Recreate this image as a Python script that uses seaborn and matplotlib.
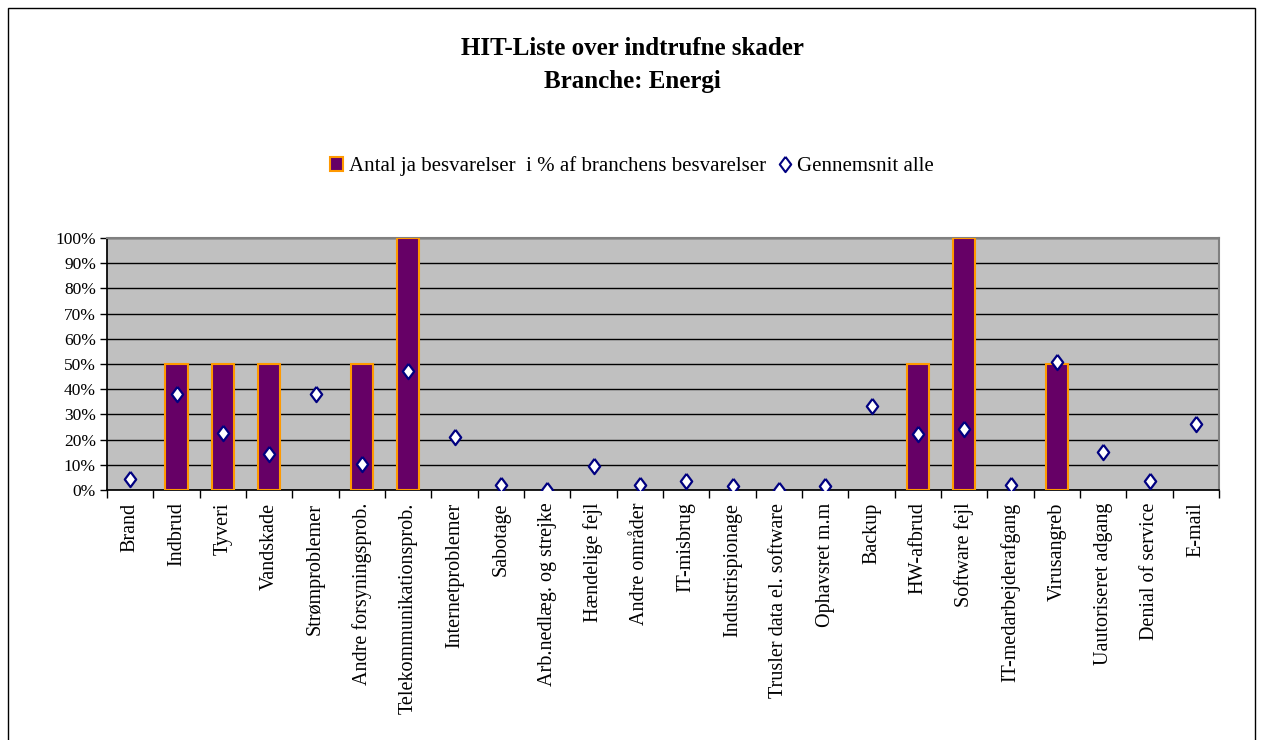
import numpy as np
import pandas as pd
import matplotlib
matplotlib.use("Agg")
import matplotlib.pyplot as plt
import seaborn as sns
from matplotlib.lines import Line2D
from matplotlib.patches import Patch, Rectangle

categories = ["Brand", "Indbrud", "Tyveri", "Vandskade", "Strømproblemer",
              "Andre forsyningsprob.", "Telekommunikationsprob.", "Internetproblemer",
              "Sabotage", "Arb.nedlæg. og strejke", "Hændelige fejl", "Andre områder",
              "IT-misbrug", "Industrispionage", "Trusler data el. software",
              "Ophavsret m.m", "Backup", "HW-afbrud", "Software fejl",
              "IT-medarbejderafgang", "Virusangreb", "Uautoriseret adgang",
              "Denial of service", "E-mail"]
# energy sector, % yes answers
branche = [0, 50, 50, 50, 0, 50, 100, 0, 0, 0, 0, 0, 0, 0, 0, 0, 0, 50, 100, 0, 50, 0, 0, 0]
# average all sectors
gennemsnit = [4.4, 38, 22.7, 14.3, 38, 10.4, 47.1, 21.2, 2.1, 0, 9.7, 2.1, 3.7, 1.5, 0,
              1.5, 33.5, 22.1, 24.2, 2.1, 50.8, 15.2, 3.7, 26]

df = pd.DataFrame({"kategori": categories, "branche": branche, "gennemsnit": gennemsnit})
df["pos"] = np.arange(len(df))

sns.set_theme(style="white")
plt.rcParams["font.family"] = ["Liberation Serif", "DejaVu Serif"]
plt.rcParams["text.color"] = "black"
plt.rcParams["xtick.color"] = "black"
plt.rcParams["ytick.color"] = "black"

# wide diamond like the excel marker
diamond = [(0, 1), (0.75, 0), (0, -1), (-0.75, 0), (0, 1)]

fig = plt.figure(figsize=(12.64, 7.40), dpi=100)
ax = fig.add_axes([0.0847, 0.3378, 0.8797, 0.3406])

# bars (only where there is a value, so no empty outlines on the baseline)
sns.barplot(data=df[df["branche"] > 0], x="pos", y="branche", color="#660066",
            edgecolor="#FF9900", linewidth=1.5, width=0.48, saturation=1, ax=ax,
            zorder=3, native_scale=True)
# average markers
sns.scatterplot(data=df, x="pos", y="gennemsnit", marker=diamond, s=120, color="white",
                edgecolor="#000080", linewidth=1.6, ax=ax, zorder=4, legend=False)

ax.set_facecolor("#C0C0C0")
ax.set_xlim(-0.5, len(df) - 0.5)
ax.set_ylim(0, 100)
ax.set_yticks(np.arange(0, 101, 10))
ax.set_yticklabels([f"{v}%" for v in range(0, 101, 10)], fontsize=12.5)
ax.yaxis.grid(True, color="black", linewidth=1, zorder=1)
ax.set_axisbelow(True)
ax.set_xticks(df["pos"])
ax.set_xticklabels(df["kategori"], rotation=90, fontsize=14.5)
ax.set_xticks(np.arange(-0.5, len(df)), minor=True)
ax.tick_params(axis="x", which="major", length=0, pad=9, labelcolor="black")
ax.tick_params(axis="x", which="minor", length=6, width=1, color="black", direction="out", bottom=True)
ax.tick_params(axis="y", length=5, width=1, color="black", direction="out", left=True, pad=3,
               labelcolor="black")
ax.set_xlabel("")
ax.set_ylabel("")
for side in ["top", "right"]:
    ax.spines[side].set_color("#808080")
    ax.spines[side].set_linewidth(1.5)
ax.spines["left"].set_color("black")
ax.spines["bottom"].set_color("black")

fig.text(0.5, 0.935, "HIT-Liste over indtrufne skader", ha="center", va="center",
         fontsize=18, fontweight="bold", color="black")
fig.text(0.5, 0.890, "Branche: Energi", ha="center", va="center",
         fontsize=18, fontweight="bold", color="black")

handles = [Patch(facecolor="#660066", edgecolor="#FF9900", linewidth=1.5),
           Line2D([], [], marker=diamond, linestyle="", markersize=11, markerfacecolor="white",
                  markeredgecolor="#000080", markeredgewidth=1.5)]
fig.legend(handles, ["Antal ja besvarelser  i % af branchens besvarelser", "Gennemsnit alle"],
           loc="center", bbox_to_anchor=(0.5, 0.775), ncol=2, frameon=False, fontsize=15,
           handlelength=0.6, handleheight=0.6, handletextpad=0.3, columnspacing=0.6,
           labelcolor="black")

# outer frame
fig.patches.append(Rectangle((8 / 1264, -0.1), 1247 / 1264, 1.1 - 8 / 740, transform=fig.transFigure,
                             fill=False, edgecolor="black", linewidth=1))

fig.savefig("out.png", dpi=100)
